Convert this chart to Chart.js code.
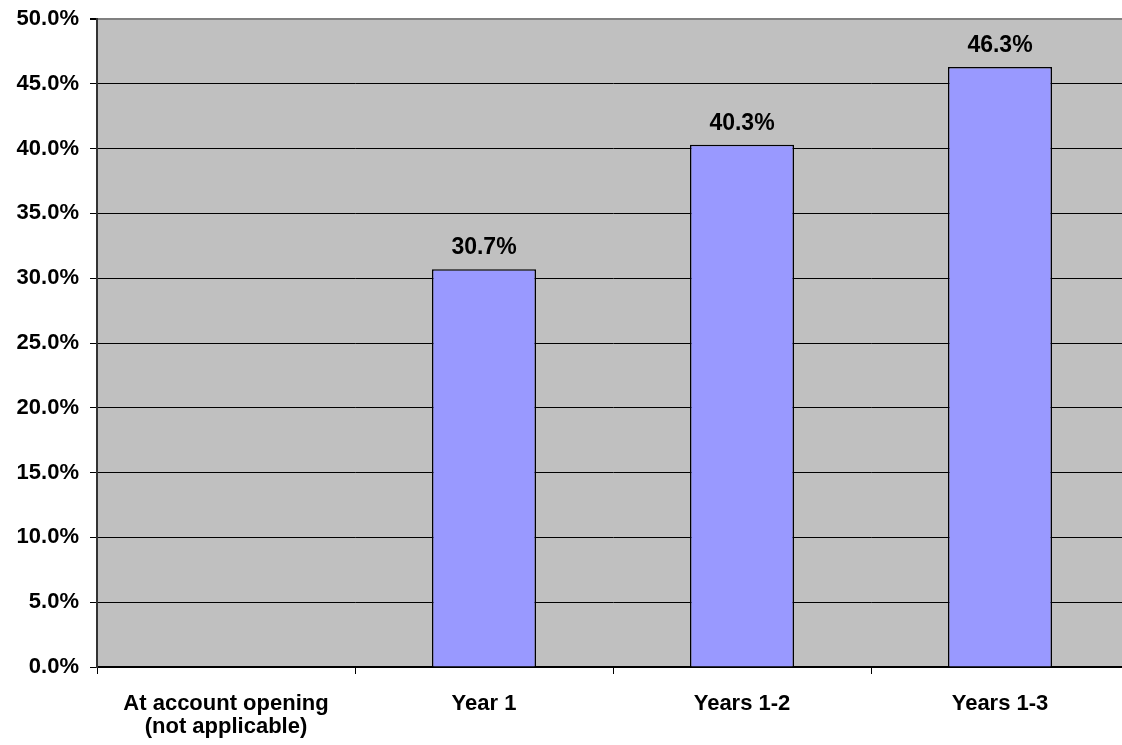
<!DOCTYPE html>
<html>
<head>
<meta charset="utf-8">
<script src="https://cdn.jsdelivr.net/npm/chart.js@4/dist/chart.umd.min.js"></script>
<style>
  html, body { margin: 0; padding: 0; background: #fff; overflow: hidden; }
  /* the plot runs slightly past the right edge, as in the reference */
  #wrap { position: relative; width: 1129px; height: 745px; }
</style>
</head>
<body>
<div id="wrap"><canvas id="chart"></canvas></div>
<script>
const categories = [["At account opening", "(not applicable)"], "Year 1", "Years 1-2", "Years 1-3"];
const values = [null, 30.7, 40.3, 46.3];
const yTicks = [0, 5, 10, 15, 20, 25, 30, 35, 40, 45, 50];

const FONT = "'Liberation Sans', Arial, sans-serif";

// grey plot background
const plotBg = {
  id: "plotBg",
  beforeDraw(chart) {
    const { ctx, chartArea: a } = chart;
    ctx.save();
    ctx.fillStyle = "#c0c0c0";
    ctx.fillRect(a.left, a.top, a.right - a.left, a.bottom - a.top);
    ctx.restore();
  }
};

// value labels above bars
const barLabels = {
  id: "barLabels",
  afterDatasetsDraw(chart) {
    const { ctx } = chart;
    const meta = chart.getDatasetMeta(0);
    ctx.save();
    ctx.font = "bold 23px " + FONT;
    ctx.fillStyle = "#000";
    ctx.textAlign = "center";
    ctx.textBaseline = "alphabetic";
    meta.data.forEach((bar, i) => {
      const v = values[i];
      if (v == null) return;
      ctx.fillText(v.toFixed(1) + "%", bar.x, bar.y - 15);
    });
    ctx.restore();
  }
};

new Chart(document.getElementById("chart"), {
  type: "bar",
  data: {
    labels: categories,
    datasets: [{
      data: values,
      backgroundColor: "#9999ff",
      borderColor: "#000",
      borderWidth: 1.5,
      barPercentage: 0.504,
      categoryPercentage: 0.8
    }]
  },
  options: {
    responsive: true,
    maintainAspectRatio: false,
    animation: false,
    layout: { padding: { top: 19, right: 0, left: 0, bottom: 0 } },
    plugins: {
      legend: { display: false },
      tooltip: { enabled: false }
    },
    scales: {
      x: {
        grid: {
          display: true,
          drawOnChartArea: false,
          drawTicks: true,
          tickLength: 7,
          color: "#000",
          offset: true
        },
        border: { display: true, color: "#000", width: 2 },
        ticks: {
          color: "#000",
          font: { family: FONT, size: 22, weight: "bold", lineHeight: 1.05 },
          padding: 18,
          maxRotation: 0,
          autoSkip: false
        },
        afterFit(s) { s.height = 78; }
      },
      y: {
        min: 0,
        max: 50,
        afterBuildTicks(s) { s.ticks = yTicks.map(v => ({ value: v })); },
        grid: {
          color: ctx => (ctx.tick && ctx.tick.value === 50) ? "#808080" : "#000",
          lineWidth: ctx => (ctx.tick && ctx.tick.value === 50) ? 2 : 1,
          tickLength: 7,
          tickColor: "#000"
        },
        border: { display: true, color: "#333", width: 2 },
        ticks: {
          color: "#000",
          font: { family: FONT, size: 22, weight: "bold" },
          padding: 11,
          callback: v => v.toFixed(1) + "%"
        },
        afterFit(s) {
          s.width = 97;
          s.paddingTop = 0;
          s.paddingBottom = 0;
        }
      }
    }
  },
  plugins: [plotBg, barLabels]
});
</script>
</body>
</html>
